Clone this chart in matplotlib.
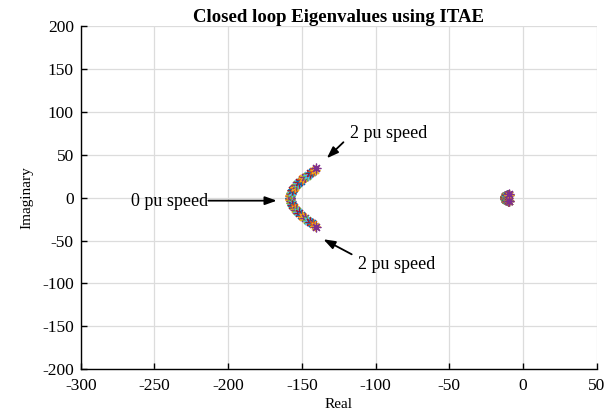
import matplotlib
matplotlib.use("Agg")
import matplotlib.pyplot as plt

# 25 operating points from 0 to 2 pu speed
speed_pu = [0.000, 0.083, 0.167, 0.250, 0.333, 0.417, 0.500, 0.583, 0.667,
            0.750, 0.833, 0.917, 1.000, 1.083, 1.167, 1.250, 1.333, 1.417,
            1.500, 1.583, 1.667, 1.750, 1.833, 1.917, 2.000]
# dominant complex pair (real part, positive imaginary part)
pair_real = [-158.0, -157.9, -157.8, -157.5, -157.2, -156.9, -156.4, -155.9,
             -155.4, -154.8, -154.1, -153.4, -152.6, -151.8, -150.9, -149.9,
             -148.9, -147.9, -146.8, -145.6, -144.5, -143.3, -142.2, -141.3,
             -140.5]
pair_imag = [0.0, 1.4, 2.8, 4.3, 5.7, 7.1, 8.5, 9.9, 11.3, 12.8, 14.2, 15.6,
             17.0, 18.4, 19.8, 21.3, 22.7, 24.1, 25.5, 26.9, 28.3, 29.8, 31.2,
             32.6, 34.0]
# slow poles near -10
slow_real = [-12.5, -12.5, -12.4, -12.4, -12.3, -12.2, -12.1, -12.0, -11.9,
             -11.7, -11.5, -11.3, -11.1, -10.9, -10.7, -10.5, -10.3, -10.2,
             -10.1, -10.0, -9.9, -9.8, -9.7, -9.7, -9.6]
slow_imag = [0.0, 0.2, 0.4, 0.6, 0.8, 1.0, 1.2, 1.4, 1.6, 1.8, 2.0, 2.2,
             2.4, 2.6, 2.8, 3.0, 3.1, 3.2, 3.3, 3.4, 3.5, 3.5, 3.6, 3.6, 3.7]

xticks = [-300, -250, -200, -150, -100, -50, 0, 50]
yticks = [-200, -150, -100, -50, 0, 50, 100, 150, 200]

colors = ['#0072BD', '#D95319', '#EDB120', '#7E2F8E', '#77AC30', '#4DBEEE', '#A2142F']

plt.rcParams['font.family'] = ['Liberation Serif', 'DejaVu Serif']

fig = plt.figure(figsize=(6.13, 4.13), dpi=100)
ax = fig.add_axes([0.1317, 0.1058, 0.8417, 0.8312])

for k in range(len(speed_pu)):
    re = [pair_real[k], pair_real[k], slow_real[k], slow_real[k]]
    im = [pair_imag[k], -pair_imag[k], slow_imag[k], -slow_imag[k]]
    ax.plot(re, im, linestyle='none', marker=(8, 2, 0), markersize=7,
            markeredgewidth=0.9, color=colors[k % len(colors)])

ax.set_xlim(-300, 50)
ax.set_ylim(-200, 200)
ax.set_xticks(xticks)
ax.set_yticks(yticks)
ax.set_xticklabels([str(t) for t in xticks], fontsize=12.5)
ax.set_yticklabels([str(t) for t in yticks], fontsize=12.5)
ax.grid(True, color='#dcdcdc', linewidth=0.9)
ax.set_axisbelow(True)
ax.spines['top'].set_visible(False)
ax.spines['right'].set_visible(False)
ax.spines['left'].set_linewidth(1.0)
ax.spines['bottom'].set_linewidth(1.0)
ax.tick_params(direction='in', length=4, width=1.0, top=False, right=False)
ax.tick_params(axis='y', pad=5)
ax.tick_params(axis='x', pad=6)

ax.set_title('Closed loop Eigenvalues using ITAE', fontsize=13.5, fontweight='bold', pad=3)
ax.set_xlabel('Real', fontsize=11, labelpad=3)
ax.set_ylabel('Imaginary', fontsize=11, labelpad=6)

arrow = dict(arrowstyle='-|>,head_length=0.7,head_width=0.25', color='black', lw=1.3,
             shrinkA=0, shrinkB=0)
ax.annotate('', xy=(-133.1, 45.9), xytext=(-121.8, 64.6), arrowprops=arrow)
ax.text(-117.3, 75, '2 pu speed', fontsize=13, va='center', ha='left')
ax.annotate('', xy=(-135.4, -48.5), xytext=(-116.2, -66), arrowprops=arrow)
ax.text(-111.7, -77.6, '2 pu speed', fontsize=13, va='center', ha='left')
ax.annotate('', xy=(-167, -3.5), xytext=(-213.4, -3.5), arrowprops=arrow)
ax.text(-213.4, -4, '0 pu speed', fontsize=13, va='center', ha='right')

fig.savefig('out.png', dpi=100)
